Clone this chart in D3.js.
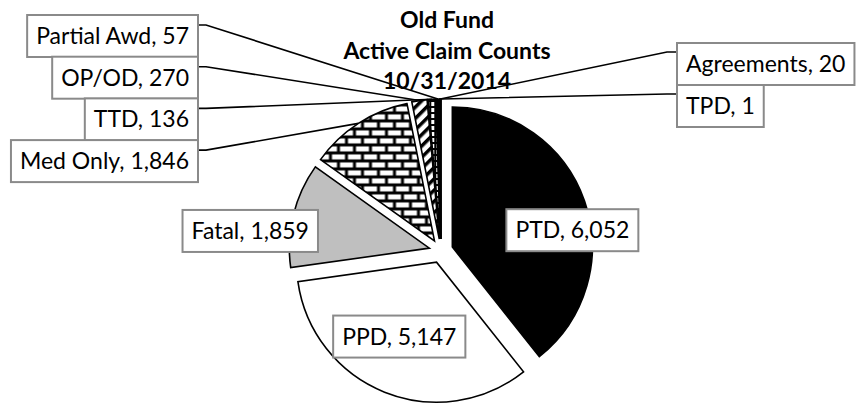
<!DOCTYPE html>
<html>
<head>
<meta charset="utf-8">
<script src="https://cdnjs.cloudflare.com/ajax/libs/d3/7.8.5/d3.min.js"></script>
<style>
body { margin:0; background:#fff; }
svg { display:block; }
text { font-family: Lato, "Open Sans", sans-serif; fill:#000; }
</style>
</head>
<body>
<script>

// data
var categories = ['PTD','PPD','Fatal','Med Only','OP/OD','TTD','Partial Awd','Agreements','TPD'];
var counts     = [6052, 5147, 1859, 1846, 270, 136, 57, 20, 1];
var titleLines = ['Old Fund','Active Claim Counts','10/31/2014'];

// label groups
var leftLabels  = ['Partial Awd','OP/OD','TTD','Med Only'];
var rightLabels = ['Agreements','TPD'];


//------------------------------------------------------------------
//
//------------------------------------------------------------------
var W = 861, H = 403,
		cx = 441, cy = 251,
		R = 140,
		explode = 12,
		fs = 23;

var fills = {
	'PTD':'#000',
	'PPD':'#fff',
	'Fatal':'#bfbfbf',
	'Med Only':'url(#brick)',
	'OP/OD':'url(#diag)',
	'TTD':'url(#smallbrick)',
	'Partial Awd':'#000',
	'Agreements':'#000',
	'TPD':'#000'
};

// inside labels: [angle deg, radius factor]
var inside = { 'PTD':[81,0.95], 'PPD':[206,0.68], 'Fatal':[276,1.37] };

var svg = d3.select('body').append('svg')
	.attr('width',W)
	.attr('height',H);

var defs = svg.append('defs');

defs.append('pattern')
	.attr('id','brick')
	.attr('patternUnits','userSpaceOnUse')
	.attr('width',16).attr('height',16)
	.call(p=>{
		p.append('rect').attr('width',16).attr('height',16).attr('fill','#000');
		[[1.5,1.5],[9.5,9.5],[-6.5,9.5]].forEach(a=>{
			p.append('rect').attr('x',a[0]).attr('y',a[1]).attr('width',13).attr('height',5).attr('fill','#fff');
		});
	});

defs.append('pattern')
	.attr('id','diag')
	.attr('patternUnits','userSpaceOnUse')
	.attr('width',8).attr('height',8)
	.attr('patternTransform','rotate(45)')
	.call(p=>{
		p.append('rect').attr('width',8).attr('height',8).attr('fill','#fff');
		p.append('rect').attr('width',3.5).attr('height',8).attr('fill','#000');
	});

defs.append('pattern')
	.attr('id','smallbrick')
	.attr('patternUnits','userSpaceOnUse')
	.attr('width',5).attr('height',6)
	.call(p=>{
		p.append('rect').attr('width',5).attr('height',6).attr('fill','#000');
		p.append('rect').attr('x',1).attr('y',1).attr('width',3).attr('height',4).attr('fill','#fff');
	});


// title
svg.append('g')
	.selectAll('text')
	.data(titleLines)
	.enter()
		.append('text')
			.attr('x',447)
			.attr('y',(d,i)=>28 + i*30.5)
			.attr('text-anchor','middle')
			.attr('font-weight','bold')
			.attr('font-size',fs)
			.text(d=>d);


var data = categories.map((c,i)=>({ key:c, value:counts[i] }));

var pie = d3.pie().sort(null).value(d=>d.value).startAngle(0).endAngle(2*Math.PI);
var arcs = pie(data);
var arc = d3.arc().innerRadius(0).outerRadius(R);

var mid = d=>(d.startAngle + d.endAngle)/2;
var off = (d,rr)=>[ Math.sin(mid(d))*rr, -Math.cos(mid(d))*rr ];
var byKey = {};
arcs.forEach(d=>byKey[d.data.key]=d);

var fmt = d3.format(',');
var labelText = d=>d.data.key + ', ' + fmt(d.data.value);


// leader lines, pie, label boxes
var gLines = svg.append('g');
var gPie = svg.append('g').attr('transform','translate('+cx+','+cy+')');
var gLab = svg.append('g');

gPie.selectAll('path')
	.data(arcs)
	.enter()
		.append('path')
			.attr('transform',d=>'translate('+off(d,explode)+')')
			.attr('d',arc)
			.attr('fill',d=>fills[d.data.key])
			.attr('stroke','#000')
			.attr('stroke-width',1.6)
			.attr('stroke-linejoin','miter');


function box(d, x, top, anchor)	{

	var g = gLab.append('g');
	var t = g.append('text')
		.attr('font-size',fs)
		.attr('y',top+29)
		.text(labelText(d));
	var tw = t.node().getComputedTextLength(),
			bw = tw + 18,
			bx = anchor=='right' ? x - bw : anchor=='left' ? x : x - bw/2;

	g.insert('rect','text')
		.attr('x',bx)
		.attr('y',top)
		.attr('width',bw)
		.attr('height',42)
		.attr('fill','#fff')
		.attr('stroke','#8a8a8a')
		.attr('stroke-width',2);
	t.attr('x',bx+9);
	return { x:bx, w:bw };
}


leftLabels.forEach((k,i)=>{
	var d = byKey[k],
			top = 15 + i*41.7,
			b = box(d, 198, top, 'right'),
			p = off(d, R + explode),
			y0 = top + 10;
	gLines.append('polyline')
		.attr('points',[[b.x+b.w, y0],[b.x+b.w+8, y0],[cx+p[0], cy+p[1]]].join(' '))
		.attr('fill','none')
		.attr('stroke','#000')
		.attr('stroke-width',1.6);
});

rightLabels.forEach((k,i)=>{
	var d = byKey[k],
			top = 43 + i*42,
			b = box(d, 677, top, 'left'),
			p = off(d, R + explode),
			y0 = top + 9;
	gLines.append('polyline')
		.attr('points',[[b.x, y0],[b.x-10, y0],[cx+p[0], cy+p[1]]].join(' '))
		.attr('fill','none')
		.attr('stroke','#000')
		.attr('stroke-width',1.6);
});

Object.keys(inside).forEach(k=>{
	var d = byKey[k],
			a = inside[k][0]*Math.PI/180,
			rr = inside[k][1]*R,
			px = cx + Math.sin(a)*rr,
			py = cy - Math.cos(a)*rr;
	box(d, px, py-21, 'middle');
});

</script>
</body>
</html>
